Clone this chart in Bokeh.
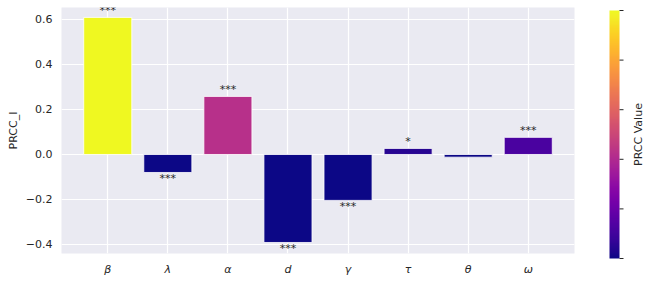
import numpy as np
from bokeh.plotting import figure
from bokeh.models import FactorRange, Range1d, FixedTicker, ColumnDataSource
from bokeh.layouts import row
from bokeh.transform import linear_cmap
from bokeh.palettes import Plasma256
from bokeh.embed import file_html
from bokeh.resources import INLINE
from bokeh.core.properties import value

params = ["β", "λ", "α", "d", "γ", "τ", "θ", "ω"]
prcc = [0.609, -0.080, 0.258, -0.391, -0.204, 0.027, -0.012, 0.076]
signif = ["***", "***", "***", "***", "***", "*", "", "***"]
yticks = [-0.4, -0.2, 0.0, 0.2, 0.4, 0.6]
ytick_labels = ["−0.4", "−0.2", "0.0", "0.2", "0.4", "0.6"]
cbar_ticks = [0.0, 0.2, 0.4, 0.6, 0.8, 1.0]
cbar_label = "PRCC Value"

FONT = "DejaVu Sans"
TXT = "#262626"
BG = "#eaeaf2"

src = ColumnDataSource(dict(
    x=params, top=prcc, text=signif,
    base=["bottom" if v >= 0 else "top" for v in prcc],
))

p = figure(x_range=FactorRange(factors=params, range_padding=0.27, range_padding_units="absolute"),
           y_range=Range1d(-0.44, 0.653),
           frame_width=513, frame_height=246,
           min_border_left=61, min_border_right=14, min_border_top=7, min_border_bottom=29,
           output_backend="svg", toolbar_location=None)
p.background_fill_color = BG
p.border_fill_color = "white"
p.outline_line_color = None

p.vbar(x="x", top="top", bottom=0, width=0.8, source=src,
       fill_color=linear_cmap("top", Plasma256, 0, max(prcc), low_color=Plasma256[0]),
       line_color="white", line_width=0.8)
p.text(x="x", y="top", text="text", source=src, text_align="center", text_baseline="base",
       text_font=value(FONT), text_font_size="11px", text_color=TXT)

p.yaxis.ticker = FixedTicker(ticks=yticks)
p.yaxis.major_label_overrides = {t: l for t, l in zip(yticks, ytick_labels)}
p.yaxis.axis_label = "PRCC_I"
for ax in (p.xaxis[0], p.yaxis[0]):
    ax.axis_line_color = None
    ax.major_tick_line_color = None
    ax.minor_tick_line_color = None
    ax.major_tick_in = 0
    ax.major_tick_out = 0
    ax.major_label_text_font = FONT
    ax.major_label_text_font_size = "11px"
    ax.major_label_text_color = TXT
    ax.axis_label_text_font = FONT
    ax.axis_label_text_font_size = "11px"
    ax.axis_label_text_font_style = "normal"
    ax.axis_label_text_color = TXT
p.xaxis.major_label_text_font_style = "italic"
p.xaxis.major_label_standoff = 9
p.yaxis.major_label_standoff = 9
p.yaxis.axis_label_standoff = 3
p.xgrid.grid_line_color = "white"
p.ygrid.grid_line_color = "white"
p.xgrid.grid_line_width = 1.2
p.ygrid.grid_line_width = 1.2
p.ygrid.ticker = FixedTicker(ticks=yticks)

# colorbar figure: gradient, tick marks and rotated label all inside its frame
grad = np.linspace(0, 1, 256).reshape(256, 1)
cb = figure(x_range=Range1d(-2.1, 3.8), y_range=Range1d(-3 / 248, 1 + 3 / 248),
            frame_width=59, frame_height=254,
            min_border_left=0, min_border_right=0, min_border_top=3, min_border_bottom=25,
            output_backend="svg", toolbar_location=None)
cb.background_fill_color = "white"
cb.border_fill_color = "white"
cb.outline_line_color = None
cb.axis.visible = False
cb.grid.visible = False
cb.image(image=[grad], x=0, y=0, dw=1, dh=1, palette=Plasma256)
cb.segment(x0=1.0, x1=1.4, y0=cbar_ticks, y1=cbar_ticks, line_color=TXT, line_width=1)
cb.text(x=[2.9], y=[0.5], text=[cbar_label], angle=1.5708, text_align="center",
        text_baseline="middle", text_font=value(FONT), text_font_size="11px", text_color=TXT)

layout = row(p, cb)
open("out.html", "w").write(file_html(layout, INLINE))
